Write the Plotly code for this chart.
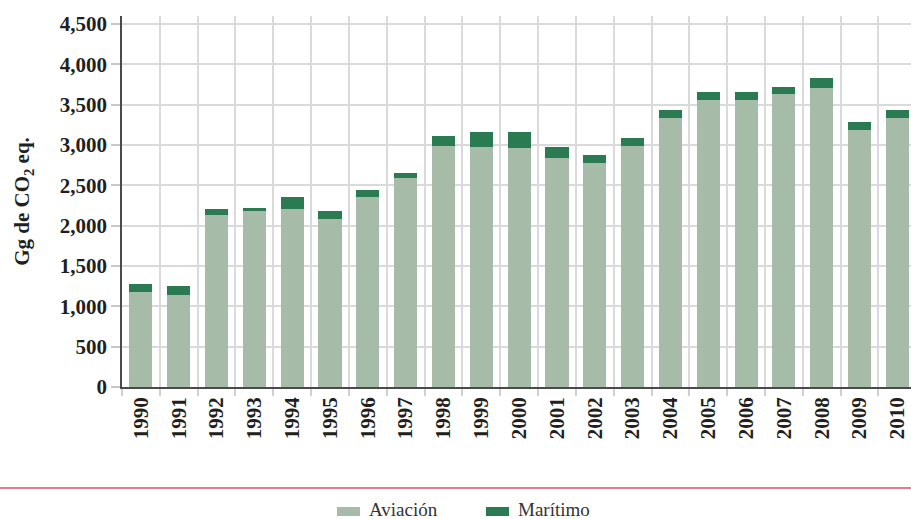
import plotly.graph_objects as go

years = [str(y) for y in range(1990, 2011)]
aviacion = [1178, 1140, 2132, 2182, 2207, 2083, 2355, 2591, 2988, 2975, 2963,
            2839, 2777, 2988, 3335, 3558, 3558, 3632, 3706, 3186, 3335]
total = [1277, 1252, 2207, 2219, 2355, 2182, 2442, 2653, 3111, 3161, 3161,
         2975, 2876, 3087, 3434, 3657, 3657, 3719, 3830, 3285, 3434]
maritimo = [t - a for t, a in zip(total, aviacion)]
y_ticks = [0, 500, 1000, 1500, 2000, 2500, 3000, 3500, 4000, 4500]
y_labels = ["0", "500", "1,000", "1,500", "2,000", "2,500", "3,000", "3,500", "4,000", "4,500"]
series_names = ["Aviación", "Marítimo"]
series_colors = ["#a6bba8", "#2a7a52"]

SERIF = "Liberation Serif, serif"
W, H = 911, 519
L, T, B = 122, 16, 132
plot_w = W - L
plot_h = H - T - B


def px_x(px):
    return (px - L) / plot_w


def px_y(py):
    return (H - B - py) / plot_h


fig = go.Figure()
for name, vals, col in zip(series_names, [aviacion, maritimo], series_colors):
    fig.add_trace(go.Bar(x=years, y=vals, name=name, marker_color=col,
                         marker_line_width=0, showlegend=False))

fig.update_layout(
    width=W, height=H,
    barmode="stack", bargap=0.39,
    plot_bgcolor="white", paper_bgcolor="white",
    margin=dict(l=L, r=0, t=T, b=B, autoexpand=False),
    font=dict(family=SERIF, color="#231f20"),
    showlegend=False,
    xaxis=dict(type="category", range=[-0.5, 20.36], tickson="boundaries",
               ticks="outside", ticklen=7, tickcolor="#d0d0d0", tickwidth=1.5,
               showgrid=True, gridcolor="#dadada", gridwidth=1.5,
               tickangle=-90, tickfont=dict(family=SERIF, size=21, color="#231f20", weight="bold"),
               showline=True, linecolor="#4a4a4a", linewidth=1.5, zeroline=False),
    yaxis=dict(range=[0, 4600], tickvals=y_ticks, ticktext=y_labels,
               ticks="outside", ticklen=9, tickcolor="#c8c8c8", tickwidth=1.5,
               showgrid=True, gridcolor="#dadada", gridwidth=1.5,
               tickfont=dict(family=SERIF, size=21, color="#231f20", weight="bold"),
               showline=True, linecolor="#4a4a4a", linewidth=1.5, zeroline=False,
               title=dict(text="Gg de CO<sub>2</sub> eq.", standoff=24,
                          font=dict(family=SERIF, size=21, color="#231f20", weight="bold"))),
)

# separator line
fig.add_shape(type="line", xref="paper", yref="paper",
              x0=px_x(0), x1=1, y0=px_y(488), y1=px_y(488),
              line=dict(color="#d8536b", width=1.5))

# legend (swatches + labels)
legend_x = [337, 486]
for name, col, sx in zip(series_names, series_colors, legend_x):
    fig.add_shape(type="rect", xref="paper", yref="paper",
                  x0=px_x(sx), x1=px_x(sx + 23), y0=px_y(516), y1=px_y(507),
                  fillcolor=col, line=dict(width=0))
    fig.add_annotation(xref="paper", yref="paper", x=px_x(sx + 30), y=px_y(510),
                       xanchor="left", yanchor="middle", showarrow=False,
                       text=name, font=dict(family=SERIF, size=19, color="#333333"))

fig.write_html("out.html", config={"displayModeBar": False},
               post_script="document.body.style.margin='0';")
